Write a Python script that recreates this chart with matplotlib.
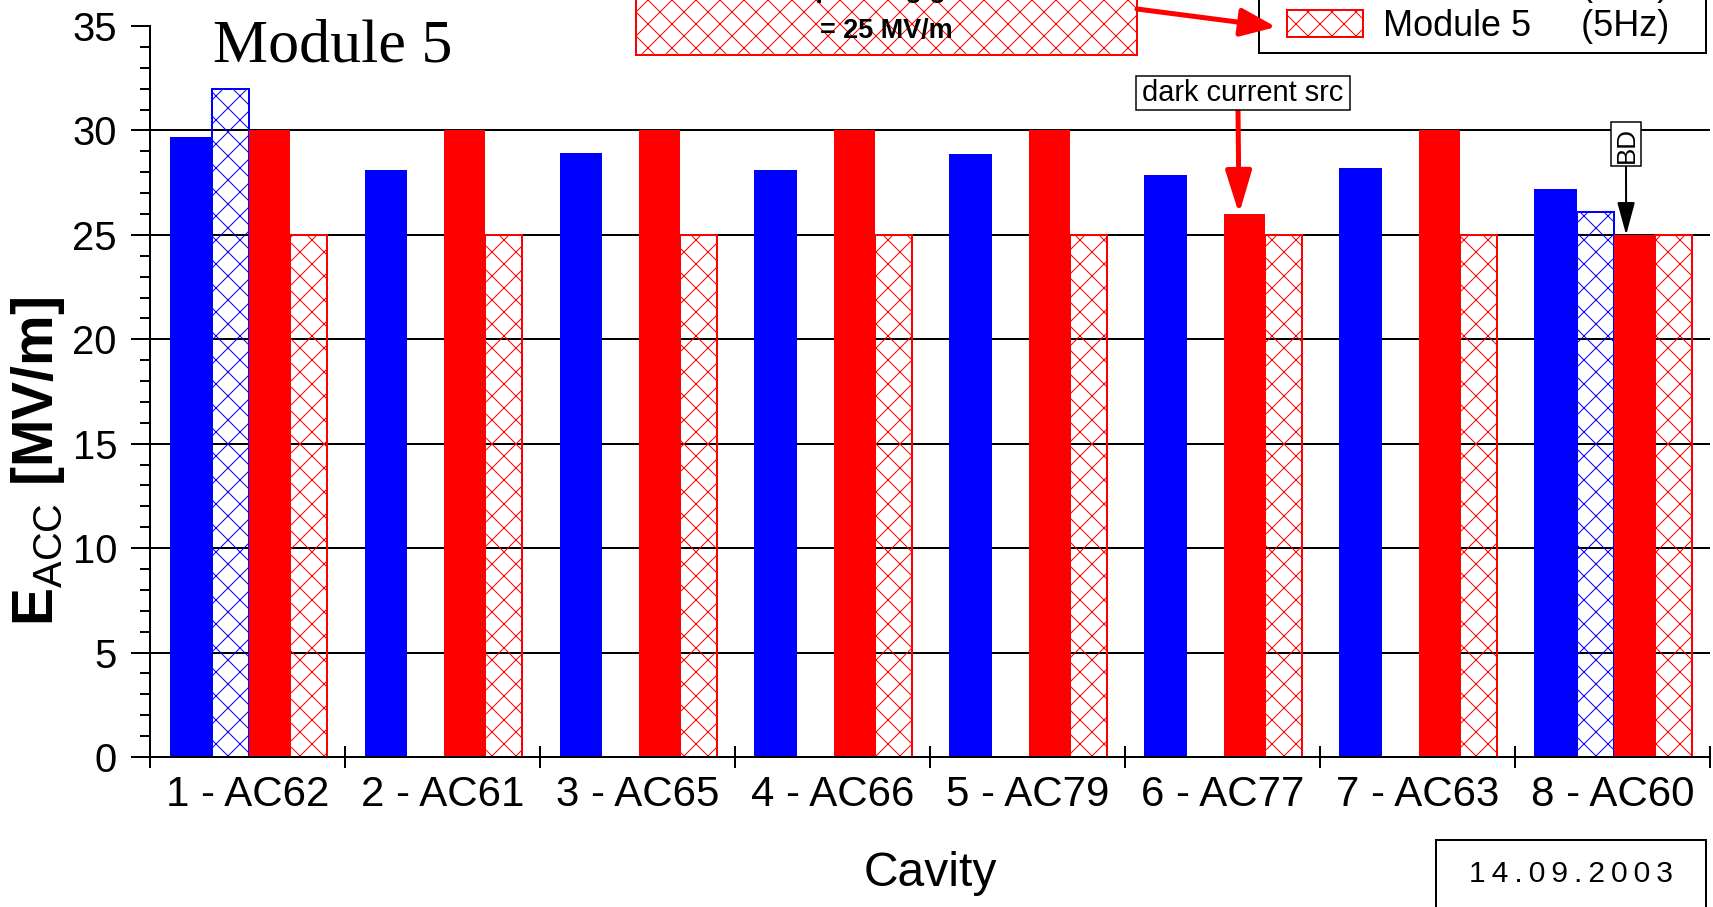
import numpy as np
import matplotlib.pyplot as plt
from matplotlib.patches import Rectangle, FancyArrowPatch
from matplotlib.ticker import MultipleLocator

# figure size in pixels (dpi 72 -> 1 pt == 1 px, hatch pitch 12 px)
W, H, DPI = 1713, 907, 72

cavities = ["1 - AC62", "2 - AC61", "3 - AC65", "4 - AC66",
            "5 - AC79", "6 - AC77", "7 - AC63", "8 - AC60"]
vertical_test = [29.7, 28.1, 28.9, 28.1, 28.85, 27.85, 28.2, 27.2]
horizontal_test = [32.0, np.nan, np.nan, np.nan, np.nan, np.nan, np.nan, 26.1]
module5_1hz = [30.0, 30.0, 30.0, 30.0, 30.0, 26.0, 30.0, 25.0]
module5_5hz = [25.0, 25.0, 25.0, 25.0, 25.0, 25.0, 25.0, 25.0]
series_labels = ["vertical         (CW)", "horizontal     (CW)",
                 "Module 5     (1Hz)", "Module 5     (5Hz)"]
y_ticks = [0, 5, 10, 15, 20, 25, 30, 35]

BLUE, RED = "#0000ff", "#ff0000"

plt.rcParams["font.family"] = ["Liberation Sans", "DejaVu Sans"]
plt.rcParams["mathtext.fontset"] = "custom"
plt.rcParams["mathtext.rm"] = "Liberation Sans"
plt.rcParams["mathtext.bf"] = "Liberation Sans:bold"
plt.rcParams["hatch.linewidth"] = 1.0


def fx(px):
    return px / W


def fy(py):
    # image rows (top = 0) -> figure fraction
    return 1 - py / H


fig = plt.figure(figsize=(W / DPI, H / DPI), dpi=DPI)
fig.patch.set_facecolor("white")
ax = fig.add_axes([fx(150), fy(757), fx(1560), 731 / H])

x = np.arange(len(cavities))
h = np.array(horizontal_test)
has_h = ~np.isnan(h)

for y in y_ticks[1:-1]:
    ax.axhline(y, color="black", lw=2, zorder=1)

b1 = ax.bar(x + 0.10, vertical_test, width=0.22, align="edge",
            color=BLUE, zorder=2, label=series_labels[0])
b2 = ax.bar(x[has_h] + 0.32, h[has_h], width=0.19, align="edge",
            facecolor="none", edgecolor=BLUE, hatch="x", lw=2, zorder=2,
            label=series_labels[1])
b3 = ax.bar(x + 0.51, module5_1hz, width=0.21, align="edge",
            color=RED, zorder=2, label=series_labels[2])
b4 = ax.bar(x + 0.72, module5_5hz, width=0.19, align="edge",
            facecolor="none", edgecolor=RED, hatch="x", lw=2, zorder=2,
            label=series_labels[3])

ax.set_xlim(0, len(cavities))
ax.set_ylim(y_ticks[0], y_ticks[-1])
ax.set_yticks(y_ticks)
ax.yaxis.set_minor_locator(MultipleLocator(1))
ax.set_xticks(np.arange(len(cavities) + 1))
ax.set_xticks(x + 0.5, cavities, minor=True)

ax.tick_params(axis="y", which="major", direction="out", length=19, width=2,
               labelsize=40, pad=14)
ax.tick_params(axis="y", which="minor", direction="out", length=10, width=2)
ax.tick_params(axis="x", which="major", direction="inout", length=22, width=2,
               labelbottom=False)
ax.tick_params(axis="x", which="minor", length=0, labelsize=42, pad=18)

for side in ("top", "right"):
    ax.spines[side].set_visible(False)
for side in ("left", "bottom"):
    ax.spines[side].set_linewidth(2)

ax.set_xlabel("Cavity", fontsize=48, va="center")
ax.xaxis.set_label_coords(0.5, (757 - 874) / 731)
ax.set_ylabel(r"$\mathbf{E}_{\mathrm{ACC}}$ [MV/m]", fontsize=57,
              fontweight="bold", va="center")
ax.yaxis.set_label_coords((38 - 150) / 1560, (757 - 461) / 731)

# title inside the plot
fig.text(fx(213), fy(62), "Module 5", family="Liberation Serif",
         fontsize=62, ha="left", va="baseline")

# legend frame and entries, cut by the top edge like the scanned original
fig.add_artist(Rectangle((fx(1259), fy(53)), fx(447), 0.2,
                         transform=fig.transFigure, facecolor="white",
                         edgecolor="black", lw=2, zorder=4))
fig.legend(handles=[b1, b2, b3, b4], loc="lower left",
           bbox_to_anchor=(fx(1287), fy(44)), borderaxespad=0, borderpad=0,
           fontsize=36, handlelength=76 / 36, handleheight=27 / 36,
           handletextpad=20 / 36, labelspacing=0.18, frameon=False)

# red hatched note box (upper part cut off)
fig.add_artist(Rectangle((fx(636), fy(55)), fx(501), 0.2,
                         transform=fig.transFigure, facecolor="white",
                         edgecolor=RED, hatch="x", lw=2))
fig.text(fx(886), fy(-10), "5 Hz operating gradient", fontsize=27,
         fontweight="bold", ha="center", va="center")
fig.text(fx(886), fy(31), "= 25 MV/m", fontsize=27, fontweight="bold",
         ha="center", va="center")
fig.add_artist(FancyArrowPatch((fx(1137), fy(9)), (fx(1276), fy(27)),
                               transform=fig.transFigure,
                               arrowstyle="-|>,head_length=1.5,head_width=0.6",
                               color=RED, lw=5, mutation_scale=20,
                               shrinkA=0, shrinkB=0, zorder=6))

# dark current source marker
fig.add_artist(Rectangle((fx(1136), fy(110)), fx(214), 34 / H,
                         transform=fig.transFigure, facecolor="white",
                         edgecolor="black", lw=1.5))
fig.text(fx(1243), fy(93), "dark current src", fontsize=29,
         ha="center", va="center")
ax.annotate("", xy=(5.585, module5_1hz[5]), xycoords="data",
            xytext=(1238, H - 110), textcoords="figure pixels",
            arrowprops=dict(arrowstyle="-|>,head_length=1.8,head_width=0.55",
                            color=RED, lw=5, mutation_scale=20,
                            shrinkA=0, shrinkB=0), zorder=5)

# breakdown marker
fig.add_artist(Rectangle((fx(1611), fy(166)), fx(30), 44 / H,
                         transform=fig.transFigure, facecolor="white",
                         edgecolor="black", lw=1.5))
fig.text(fx(1627), fy(145), "BD", fontsize=26, rotation=90,
         ha="center", va="center")
ax.annotate("", xy=(7.57, module5_1hz[7]), xycoords="data",
            xytext=(1626, H - 166), textcoords="figure pixels",
            arrowprops=dict(arrowstyle="-|>,head_length=1.4,head_width=0.38",
                            color="black", lw=2, mutation_scale=20,
                            shrinkA=0, shrinkB=0), zorder=5)

# date stamp
fig.add_artist(Rectangle((fx(1436), fy(912)), fx(270), 72 / H,
                         transform=fig.transFigure, facecolor="white",
                         edgecolor="black", lw=2))
fig.text(fx(1571), fy(874), "1\u20094\u2009.\u20090\u20099\u2009.\u20092\u20090\u20090\u20093",
         fontsize=30, ha="center", va="center")

fig.savefig("out.png", dpi=DPI)
